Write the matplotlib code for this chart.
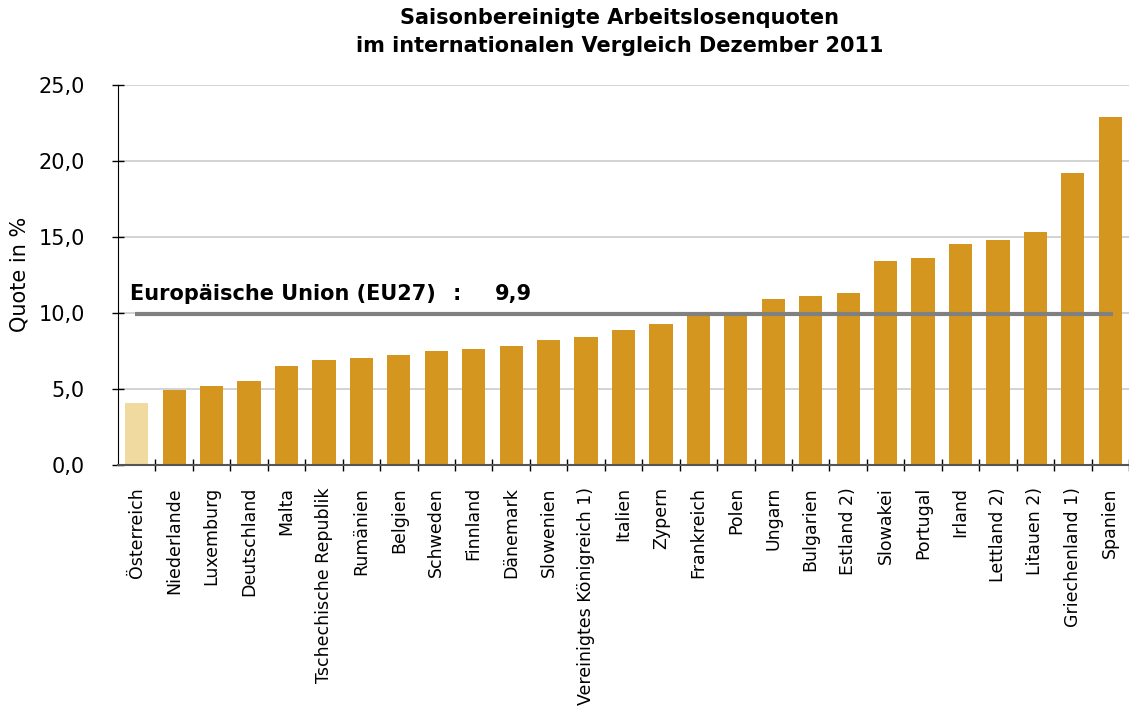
import numpy as np
import matplotlib
matplotlib.use("Agg")
import matplotlib.pyplot as plt

countries = ["Österreich", "Niederlande", "Luxemburg", "Deutschland", "Malta",
             "Tschechische Republik", "Rumänien", "Belgien", "Schweden", "Finnland",
             "Dänemark", "Slowenien", "Vereinigtes Königreich 1)", "Italien", "Zypern",
             "Frankreich", "Polen", "Ungarn", "Bulgarien", "Estland 2)",
             "Slowakei", "Portugal", "Irland", "Lettland 2)", "Litauen 2)",
             "Griechenland 1)", "Spanien"]
quote = [4.1, 4.9, 5.2, 5.5, 6.5,
         6.9, 7.0, 7.2, 7.5, 7.6,
         7.8, 8.2, 8.4, 8.9, 9.3,
         9.8, 9.8, 10.9, 11.1, 11.3,
         13.4, 13.6, 14.5, 14.8, 15.3,
         19.2, 22.9]
eu27 = 9.9

bar_color = "#D4961E"
highlight_color = "#F0DAA0"

fig = plt.figure(figsize=(11.29, 7.13), dpi=100)
ax = fig.add_axes([0.1045, 0.348, 0.8955, 0.533])

x = np.arange(len(countries))
colors = [highlight_color] + [bar_color] * (len(countries) - 1)
ax.bar(x, quote, width=0.62, color=colors, zorder=2)

# EU average line
ax.plot([-0.04, len(countries) - 0.92], [eu27, eu27], color="#808080",
        lw=3, zorder=3, solid_capstyle="butt")
ax.text(-0.17, eu27 + 0.96, "Europäische Union (EU27)", fontsize=15,
        fontweight="bold", family="DejaVu Sans", va="baseline", ha="left")
ax.text(8.45, eu27 + 0.96, ":", fontsize=15,
        fontweight="bold", family="DejaVu Sans", va="baseline", ha="left")
ax.text(9.57, eu27 + 0.96, f"{eu27:.1f}".replace(".", ","), fontsize=15,
        fontweight="bold", family="DejaVu Sans", va="baseline", ha="left")

ax.set_ylim(0, 25)
ax.set_xlim(-0.5, len(countries) - 0.57)
ax.set_yticks(np.arange(0, 26, 5))
ax.set_yticklabels([f"{v:.1f}".replace(".", ",") for v in np.arange(0, 26, 5)],
                   fontsize=15, family="DejaVu Sans")
ax.yaxis.grid(True, color="#CCCCCC", lw=1.2, zorder=0)
ax.set_axisbelow(True)

ax.set_xticks(x)
ax.set_xticklabels(countries, rotation=90, fontsize=12.5, family="DejaVu Sans",
                   va="top", ha="center")
ax.set_xticks(np.arange(len(countries)) + 0.5, minor=True)
ax.tick_params(axis="x", which="major", length=0, pad=16)
ax.tick_params(axis="x", which="minor", length=8, direction="inout",
               color="black", width=1)
ax.tick_params(axis="y", length=8, direction="inout", width=1, pad=20)

ax.set_ylabel("Quote in %", fontsize=15, family="DejaVu Sans", labelpad=6)

for side in ["top", "right"]:
    ax.spines[side].set_visible(False)
ax.spines["left"].set_color("black")
ax.spines["bottom"].set_color("#555555")
ax.spines["bottom"].set_linewidth(1.5)

fig.text(0.549, 0.955, "Saisonbereinigte Arbeitslosenquoten\nim internationalen Vergleich Dezember 2011",
         ha="center", va="center", fontsize=15, fontweight="bold",
         family="DejaVu Sans", linespacing=1.45)

fig.savefig("out.png", dpi=100)
